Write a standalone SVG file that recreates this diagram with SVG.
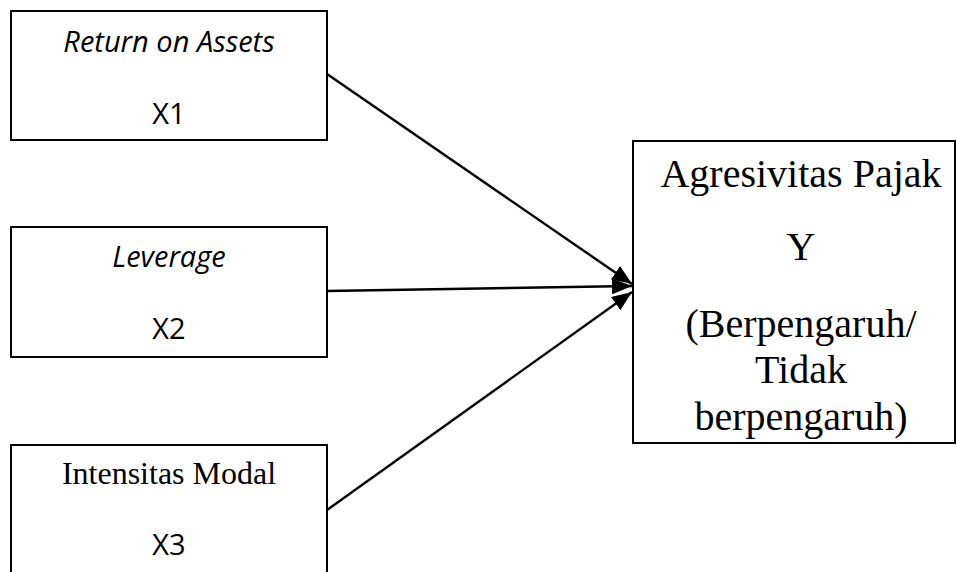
<svg xmlns="http://www.w3.org/2000/svg" width="957" height="572" viewBox="0 0 957 572">
<style>
.box{fill:#fff;stroke:#000;stroke-width:2}
.sans{font-family:"Open Sans","DejaVu Sans",sans-serif;font-size:29px;fill:#000;text-anchor:middle}
.it{font-style:italic}
.serif{font-family:"Liberation Serif","Times New Roman",serif;fill:#000;text-anchor:middle}
.edge{stroke:#000;stroke-width:2.4;fill:none}
</style>
<defs>
<marker id="arr" viewBox="0 0 10 10" refX="10" refY="5" markerWidth="20" markerHeight="16" markerUnits="userSpaceOnUse" orient="auto" preserveAspectRatio="none">
<path d="M0,0 L10,5 L0,10 z" fill="#000"/>
</marker>
</defs>
<g id="x1">
<rect class="box" x="11" y="11" width="316" height="129"/>
<text class="sans it" x="169" y="52">Return on Assets</text>
<text class="sans" x="169" y="124">X1</text>
</g>
<g id="x2">
<rect class="box" x="11" y="227" width="316" height="130"/>
<text class="sans it" x="169" y="267">Leverage</text>
<text class="sans" x="169" y="339">X2</text>
</g>
<g id="x3">
<rect class="box" x="11" y="445" width="316" height="140"/>
<text class="serif" font-size="32" x="169" y="484">Intensitas Modal</text>
<text class="sans" x="169" y="555">X3</text>
</g>
<g id="y">
<rect class="box" x="633" y="141" width="322" height="302"/>
<text class="serif" font-size="40" x="801" y="187">Agresivitas Pajak</text>
<text class="serif" font-size="40" x="801" y="260">Y</text>
<text class="serif" font-size="40" x="801" y="337">(Berpengaruh/</text>
<text class="serif" font-size="40" x="801" y="383">Tidak</text>
<text class="serif" font-size="40" x="801" y="430">berpengaruh)</text>
</g>
<g id="connectors">
<line class="edge" x1="327" y1="74" x2="632" y2="284" marker-end="url(#arr)"/>
<line class="edge" x1="327" y1="291" x2="632" y2="286" marker-end="url(#arr)"/>
<line class="edge" x1="327" y1="510" x2="632" y2="292" marker-end="url(#arr)"/>
</g>
</svg>
